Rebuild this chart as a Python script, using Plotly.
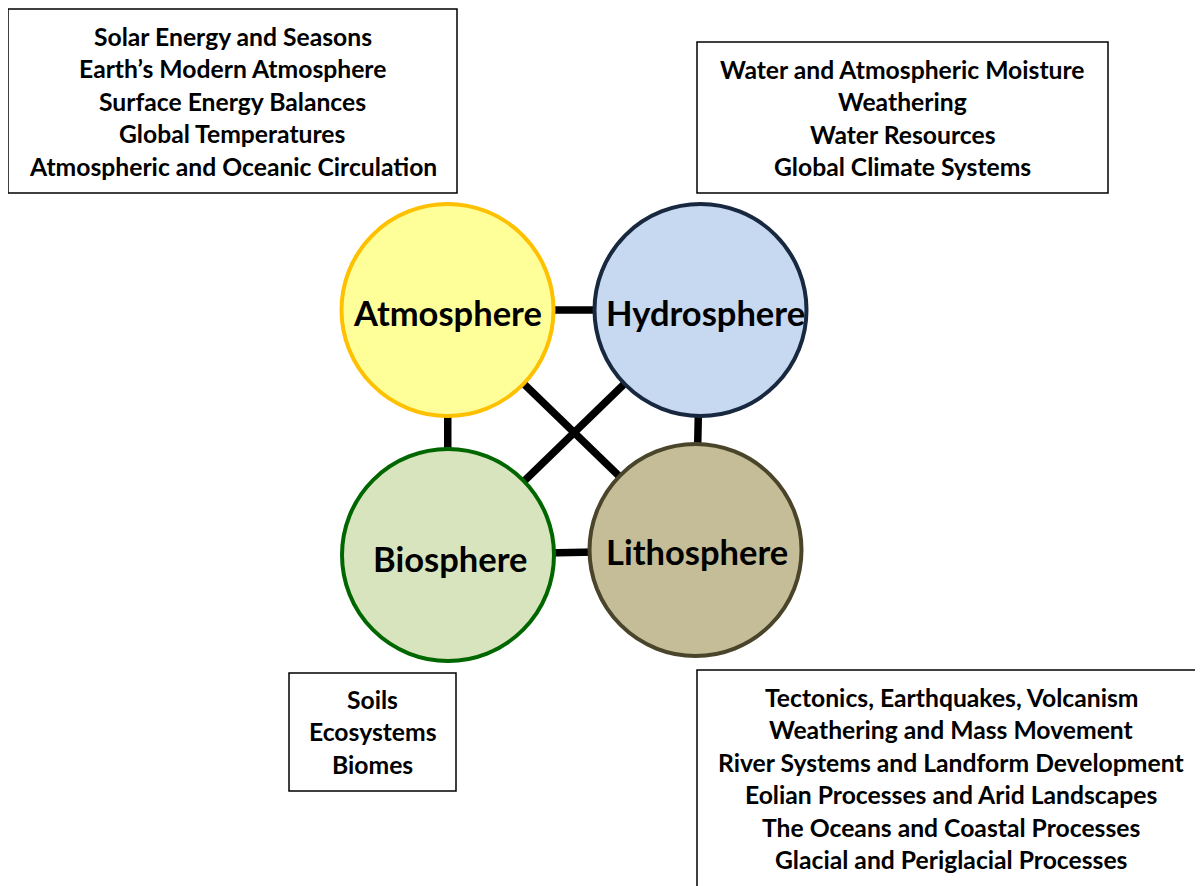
import plotly.graph_objects as go

# ---- data ----
spheres = ["Atmosphere", "Hydrosphere", "Biosphere", "Lithosphere"]
links = [("Atmosphere", "Hydrosphere"), ("Atmosphere", "Biosphere"),
         ("Hydrosphere", "Lithosphere"), ("Biosphere", "Lithosphere"),
         ("Atmosphere", "Lithosphere"), ("Hydrosphere", "Biosphere")]
topics_atmosphere = ["Solar Energy and Seasons", "Earth\u2019s Modern Atmosphere",
                     "Surface Energy Balances", "Global Temperatures",
                     "Atmospheric and Oceanic Circulation"]
topics_hydrosphere = ["Water and Atmospheric Moisture", "Weathering",
                      "Water Resources", "Global Climate Systems"]
topics_biosphere = ["Soils", "Ecosystems", "Biomes"]
topics_lithosphere = ["Tectonics, Earthquakes, Volcanism", "Weathering and Mass Movement",
                      "River Systems and Landform Development",
                      "Eolian Processes and Arid Landscapes",
                      "The Oceans and Coastal Processes",
                      "Glacial and Periglacial Processes"]

# ---- layout / styles ----
W, H = 1203, 886
PAGE_OFFSET = 8  # browser default body margin
node_pos = {"Atmosphere": (447.5, 310), "Hydrosphere": (700.5, 310),
            "Biosphere": (448, 555), "Lithosphere": (695.5, 550)}
node_r = 106
node_style = {"Atmosphere": ("#FFFF99", "#FFC000"),
              "Hydrosphere": ("#C6D9F1", "#17283F"),
              "Biosphere": ("#D7E4BD", "#006600"),
              "Lithosphere": ("#C4BD97", "#4A452A")}
label_pos = {"Atmosphere": (447, 312), "Hydrosphere": (705, 312),
             "Biosphere": (450, 558), "Lithosphere": (697, 551)}
boxes = [  # (x0, y0, x1, y1, text centre x, first line y, topics)
    (8, 9, 457, 193, 232.5, 36, topics_atmosphere),
    (697, 42, 1108, 193, 902.5, 69, topics_hydrosphere),
    (289, 673, 456, 791, 372.5, 699, topics_biosphere),
    (697, 670, 1230, 900, 951, 697, topics_lithosphere),
]
line_step = 32.5
FONT = "Lato, 'Open Sans', sans-serif"

fig = go.Figure()
shapes = []
annotations = []

for a, b in links:
    (xa, ya), (xb, yb) = node_pos[a], node_pos[b]
    shapes.append(dict(type="line", xref="x", yref="y", x0=xa, y0=ya, x1=xb, y1=yb,
                       line=dict(color="black", width=7.5)))

for s in spheres:
    cx, cy = node_pos[s]
    fill, edge = node_style[s]
    shapes.append(dict(type="circle", xref="x", yref="y",
                       x0=cx - node_r, x1=cx + node_r, y0=cy - node_r, y1=cy + node_r,
                       fillcolor=fill, line=dict(color=edge, width=4)))
    lx, ly = label_pos[s]
    annotations.append(dict(x=lx, y=ly, xref="x", yref="y", text="<b>%s</b>" % s,
                            showarrow=False, xanchor="center", yanchor="middle",
                            font=dict(family=FONT, size=34.5, color="black")))

for x0, y0, x1, y1, tx, ty, topics in boxes:
    shapes.append(dict(type="rect", xref="x", yref="y", x0=x0, x1=x1, y0=y0, y1=y1,
                       fillcolor="white", line=dict(color="black", width=1.5)))
    for i, t in enumerate(topics):
        annotations.append(dict(x=tx, y=ty + i * line_step, xref="x", yref="y",
                                text="<b>%s</b>" % t, showarrow=False,
                                xanchor="center", yanchor="middle",
                                font=dict(family=FONT, size=24.7, color="black")))

fig.update_layout(
    width=W, height=H, margin=dict(l=0, r=0, t=0, b=0),
    paper_bgcolor="white", plot_bgcolor="white",
    xaxis=dict(range=[PAGE_OFFSET, W + PAGE_OFFSET], visible=False, fixedrange=True),
    yaxis=dict(range=[H + PAGE_OFFSET, PAGE_OFFSET], visible=False, fixedrange=True),
    shapes=shapes, annotations=annotations, showlegend=False,
)

fig.write_html("out.html")
